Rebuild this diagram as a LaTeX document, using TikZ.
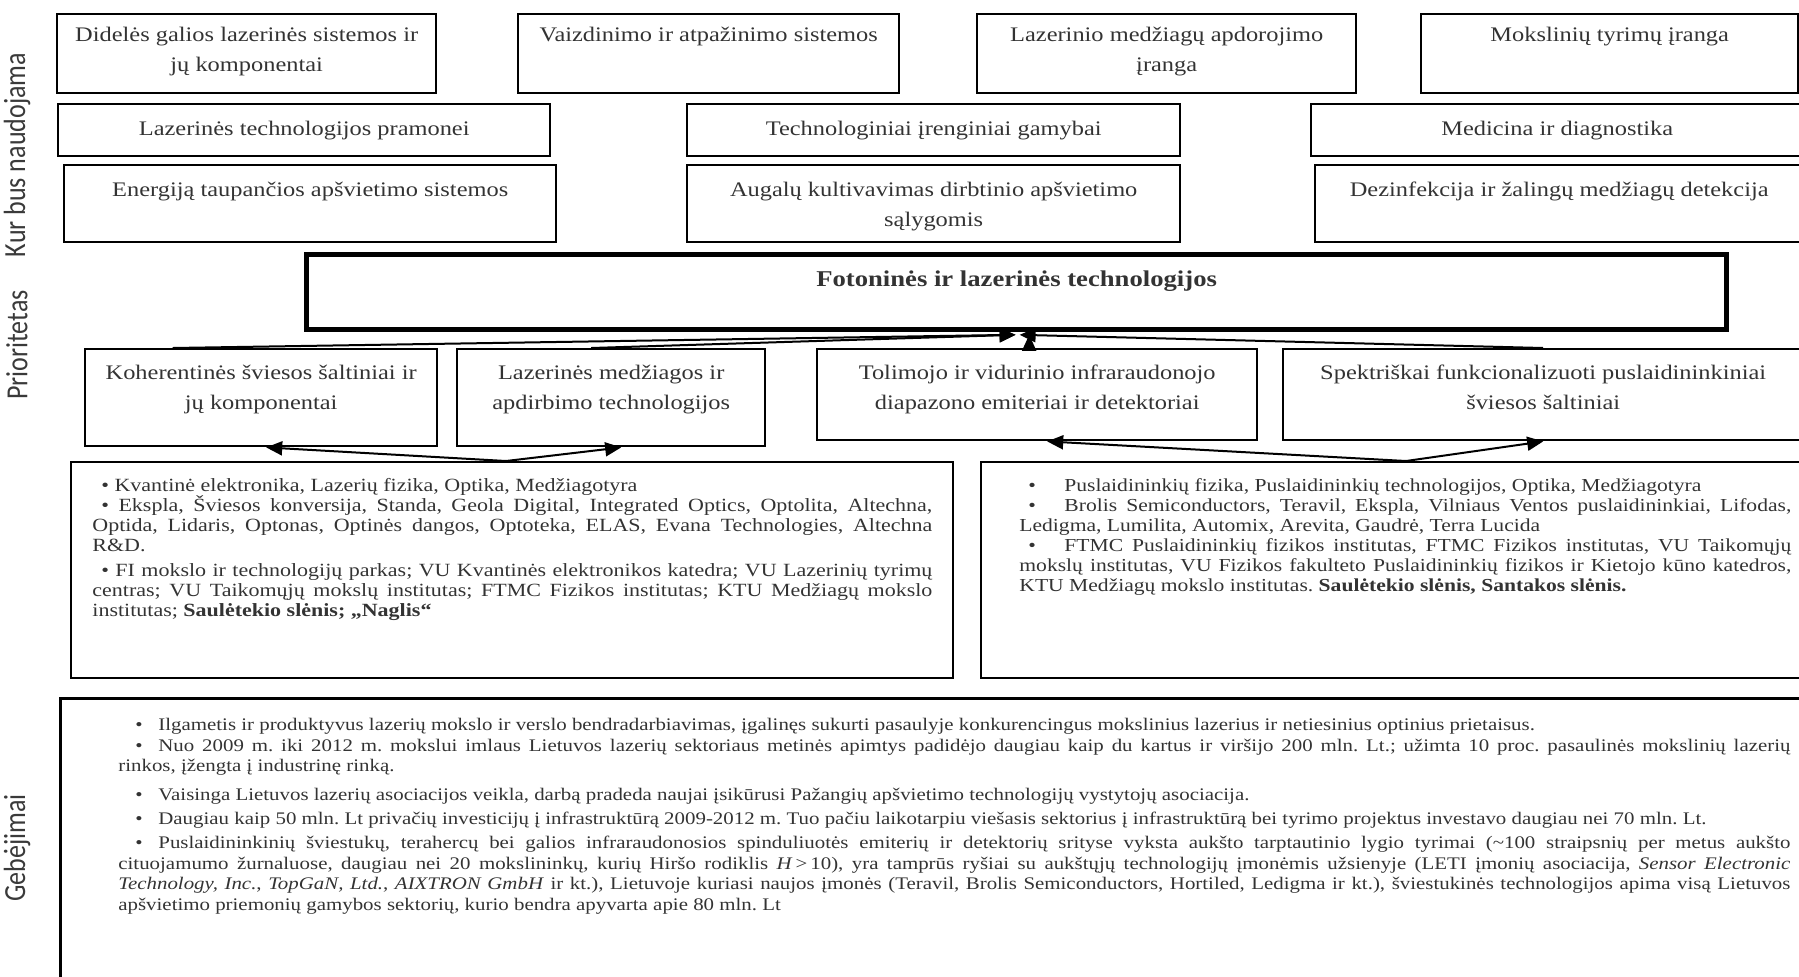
\documentclass[tikz,border=0pt]{standalone}
\usepackage{fontspec}
\usepackage{graphicx}
\setmainfont{Liberation Serif}[FakeStretch=1.18]
\newfontfamily\sidefont{Carlito}
\usetikzlibrary{arrows.meta,positioning,calc}
\definecolor{ink}{HTML}{333333}
\definecolor{sidegray}{HTML}{3A3A3A}
\newcommand\tightpar{\lineskiplimit=-10pt\relax\pretolerance=10000\relax}
\newcommand\bul[2]{\hspace*{#1}\makebox[#2][l]{•}}
\newcommand\sidetext[1]{\scalebox{1}[1.18]{#1}}
\frenchspacing

\begin{document}
\begin{tikzpicture}[x=0.5pt, y=-0.5pt, >={Triangle[length=8pt,width=7pt]},
  box/.style={draw, line width=1.2pt, inner sep=0pt, anchor=north west, text=ink, font=\fontsize{10.34}{14.8}\selectfont},
  head/.style={inner sep=0pt, align=center, text=ink, font=\fontsize{10.34}{14.8}\selectfont},
  body/.style={inner sep=0pt, align=justify, text=ink},
  side/.style={rotate=90, text=sidegray, font=\sidefont\fontsize{13}{14}\selectfont},
  link/.style={->, line width=1pt}]
  \useasboundingbox (0,0) rectangle (1799,976);
  \clip (0,0) rectangle (1799,976);

  \node[side] (kur) at (17,155) {\sidetext{Kur bus naudojama}};
  \node[side] (prio) at (17,345) {\sidetext{Prioritetas}};
  \node[side] (geb) at (17,848) {\sidetext{Gebėjimai}};

  \node[box, minimum width=189.5pt, minimum height=39.5pt] (a1) at (56,13) {};
  \node[box, minimum width=190.5pt, minimum height=39.5pt] (a2) at (517,13) {};
  \node[box, minimum width=189.5pt, minimum height=39.5pt] (a3) at (976,13) {};
  \node[box, minimum width=188.5pt, minimum height=39.5pt] (a4) at (1420,13) {};
  \node[head, below=7pt of a1.north] (a1t) {Didelės galios lazerinės sistemos ir\\jų komponentai};
  \node[head, below=7pt of a2.north] (a2t) {Vaizdinimo ir atpažinimo sistemos};
  \node[head, below=7pt of a3.north] (a3t) {Lazerinio medžiagų apdorojimo\\įranga};
  \node[head, below=7pt of a4.north] (a4t) {Mokslinių tyrimų įranga};

  \node[box, minimum width=246pt, minimum height=26pt] (b1) at (57,103) {Lazerinės technologijos pramonei};
  \node[box, minimum width=246.5pt, minimum height=26pt] (b2) at (686,103) {Technologiniai įrenginiai gamybai};
  \node[box, minimum width=246pt, minimum height=26pt] (b3) at (1310,103) {Medicina ir diagnostika};

  \node[box, minimum width=246pt, minimum height=38.5pt] (c1) at (63,164) {};
  \node[box, minimum width=246.5pt, minimum height=38.5pt] (c2) at (686,164) {};
  \node[box, minimum width=244pt, minimum height=38.5pt] (c3) at (1314,164) {};
  \node[head, below=9pt of c1.north] (c1t) {Energiją taupančios apšvietimo sistemos};
  \node[head, below=9pt of c2.north] (c2t) {Augalų kultivavimas dirbtinio apšvietimo\\sąlygomis};
  \node[head, below=9pt of c3.north] (c3t) {Dezinfekcija ir žalingų medžiagų detekcija};

  \node[box, line width=2.6pt, minimum width=710pt, minimum height=37.5pt] (core) at (304,252) {};
  \node[head, font=\fontsize{11.3}{14.8}\selectfont\bfseries, below=9pt of core.north] (coret) {Fotoninės ir lazerinės technologijos};

  \node[box, minimum width=176pt, minimum height=48.5pt] (p1) at (84,348) {};
  \node[box, minimum width=154pt, minimum height=48.5pt] (p2) at (456,348) {};
  \node[box, minimum width=220pt, minimum height=45.5pt] (p3) at (816,348) {};
  \node[box, minimum width=260pt, minimum height=45.5pt] (p4) at (1282,348) {};
  \node[head, below=8.5pt of p1.north] (p1t) {Koherentinės šviesos šaltiniai ir\\jų komponentai};
  \node[head, below=8.5pt of p2.north] (p2t) {Lazerinės medžiagos ir\\apdirbimo technologijos};
  \node[head, below=8.5pt of p3.north] (p3t) {Tolimojo ir vidurinio infraraudonojo\\diapazono emiteriai ir detektoriai};
  \node[head, below=8.5pt of p4.north] (p4t) {Spektriškai funkcionalizuoti puslaidininkiniai\\šviesos šaltiniai};

  \node[box, line width=1pt, minimum width=441pt, minimum height=108pt] (capl) at (70,461) {};
  \node[box, line width=1pt, minimum width=411pt, minimum height=108pt] (capr) at (980,461) {};
  \node[box, line width=1.6pt, minimum width=871.5pt, minimum height=150pt] (base) at (59,697) {};

  \node[body, text width=420pt, font=\fontsize{9.32}{10}\selectfont\tightpar, below right=8.7pt and 11pt of capl.north west] (caplt) {%
    \hspace*{4.5pt}• Kvantinė elektronika, Lazerių fizika, Optika, Medžiagotyra\par
    \hspace*{4.5pt}• Ekspla, Šviesos konversija, Standa, Geola Digital, Integrated Optics, Optolita, Altechna,\linebreak
    Optida, Lidaris, Optonas, Optinės dangos, Optoteka, ELAS, Evana Technologies, Altechna\linebreak
    R\&D.\par\vspace{2.5pt}
    \hspace*{4.5pt}• FI mokslo ir technologijų parkas; VU Kvantinės elektronikos katedra; VU Lazerinių tyrimų\linebreak
    centras; VU Taikomųjų mokslų institutas; FTMC Fizikos institutas; KTU Medžiagų mokslo\linebreak
    institutas; \textbf{Saulėtekio slėnis; „Naglis“}};

  \node[body, text width=386pt, font=\fontsize{9.15}{10}\selectfont\tightpar, below right=8.7pt and 19.5pt of capr.north west] (caprt) {%
    \bul{4.5pt}{18pt}Puslaidininkių fizika, Puslaidininkių technologijos, Optika, Medžiagotyra\par
    \bul{4.5pt}{18pt}Brolis Semiconductors, Teravil, Ekspla, Vilniaus Ventos puslaidininkiai, Lifodas,\linebreak
    Ledigma, Lumilita, Automix, Arevita, Gaudrė, Terra Lucida\par
    \bul{4.5pt}{18pt}FTMC Puslaidininkių fizikos institutas, FTMC Fizikos institutas, VU Taikomųjų\linebreak
    mokslų institutas, VU Fizikos fakulteto Puslaidininkių fizikos ir Kietojo kūno katedros,\linebreak
    KTU Medžiagų mokslo institutas. \textbf{Saulėtekio slėnis, Santakos slėnis.}};

  \node[body, text width=836pt, font=\fontsize{8.85}{10.3}\selectfont\tightpar, below right=10.5pt and 29.5pt of base.north west] (baset) {%
    \bul{8.5pt}{11.5pt}Ilgametis ir produktyvus lazerių mokslo ir verslo bendradarbiavimas, įgalinęs sukurti pasaulyje konkurencingus mokslinius lazerius ir netiesinius optinius prietaisus.\par
    \bul{8.5pt}{11.5pt}Nuo 2009 m. iki 2012 m. mokslui imlaus Lietuvos lazerių sektoriaus metinės apimtys padidėjo daugiau kaip du kartus ir viršijo 200 mln. Lt.; užimta 10 proc. pasaulinės mokslinių lazerių\linebreak
    rinkos, įžengta į industrinę rinką.\par\vspace{4pt}
    \bul{8.5pt}{11.5pt}Vaisinga Lietuvos lazerių asociacijos veikla, darbą pradeda naujai įsikūrusi Pažangių apšvietimo technologijų vystytojų asociacija.\par\vspace{1.75pt}
    \bul{8.5pt}{11.5pt}Daugiau kaip 50 mln. Lt privačių investicijų į infrastruktūrą 2009-2012 m. Tuo pačiu laikotarpiu viešasis sektorius į infrastruktūrą bei tyrimo projektus investavo daugiau nei 70 mln. Lt.\par\vspace{1.75pt}
    \bul{8.5pt}{11.5pt}Puslaidininkinių šviestukų, terahercų bei galios infraraudonosios spinduliuotės emiterių ir detektorių srityse vyksta aukšto tarptautinio lygio tyrimai (\textasciitilde100 straipsnių per metus aukšto\linebreak
    cituojamumo žurnaluose, daugiau nei 20 mokslininkų, kurių Hiršo rodiklis \textit{H}\,>\,10), yra tamprūs ryšiai su aukštųjų technologijų įmonėmis užsienyje (LETI įmonių asociacija, \textit{Sensor Electronic\linebreak
    Technology, Inc.}, \textit{TopGaN, Ltd.}, \textit{AIXTRON GmbH} ir kt.), Lietuvoje kuriasi naujos įmonės (Teravil, Brolis Semiconductors, Hortiled, Ledigma ir kt.), šviestukinės technologijos apima visą Lietuvos\linebreak
    apšvietimo priemonių gamybos sektorių, kurio bendra apyvarta apie 80 mln. Lt};

  \coordinate (toltip) at (p3.north |- core.south);
  \draw[link] ($(p1.north west)!0.25!(p1.north east)$) -- ([xshift=-0.5pt,yshift=-1.3pt]core.south);
  \draw[link] ([xshift=-10pt]p2.north) -- ([xshift=-0.5pt,yshift=-1.3pt]core.south);
  \draw[link] ([xshift=-4pt]p3.north) -- ([xshift=-4pt,yshift=-1.3pt]toltip);
  \draw[link] (p4.north) -- ([xshift=1.5pt,yshift=-1.3pt]core.south);

  \coordinate (capltop) at ([xshift=-3pt]capl.north);
  \coordinate (caprtop) at ([xshift=7pt]capr.north);
  \draw[link] (capltop) -- ([xshift=2.5pt]p1.south);
  \draw[link] (capltop) -- ([xshift=5pt]p2.south);
  \draw[link] (caprtop) -- ([xshift=5pt]p3.south);
  \draw[link] (caprtop) -- (p4.south);
\end{tikzpicture}
\end{document}
